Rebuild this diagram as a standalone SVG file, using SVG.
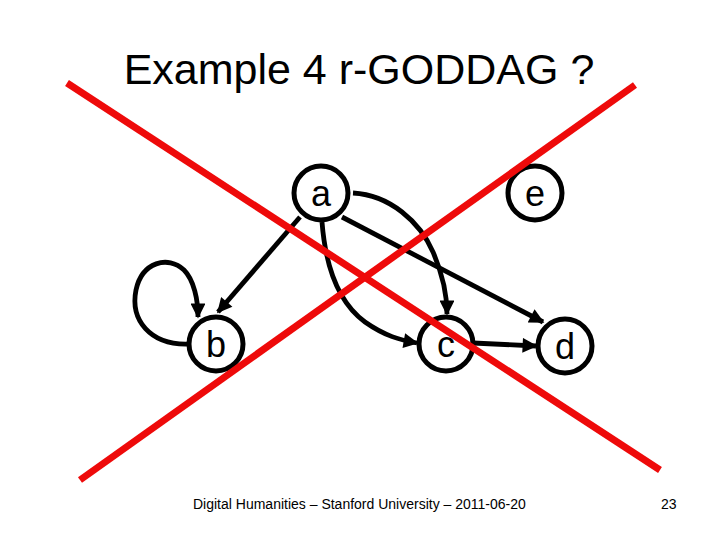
<svg xmlns="http://www.w3.org/2000/svg" width="720" height="540" viewBox="0 0 720 540">
<style>
.node circle{fill:#fff;stroke:#000;stroke-width:5}
.node text{font-family:"Liberation Sans",Arial,sans-serif;font-size:36px;text-anchor:middle;fill:#000}
.edge{fill:none;stroke:#000;stroke-width:4.8}
.cross{stroke:#ee0a0a;stroke-width:7;stroke-linecap:butt}
.title{font-family:"Liberation Sans",Arial,sans-serif;font-size:43px;fill:#000}
.foot{font-family:"Liberation Sans",Arial,sans-serif;font-size:14px;fill:#000}
</style>
<defs>
<marker id="ah" viewBox="0 0 10 10" refX="9" refY="5" markerWidth="3.6" markerHeight="3.1" orient="auto" markerUnits="strokeWidth">
<path d="M0,0 L10,5 L0,10 z" fill="#000"/>
</marker>
</defs>
<rect width="720" height="540" fill="#fff"/>
<text class="title" x="359" y="84" text-anchor="middle">Example 4 r-GODDAG ?</text>
<g id="edges">
<path class="edge" d="M300,217 L218,312" marker-end="url(#ah)"/>
<path class="edge" d="M188,344 C150,345 130,320 136,290 C142,262 168,255 184,270 C194,280 198,300 198,317" marker-end="url(#ah)"/>
<path class="edge" d="M322,222 C325,260 335,300 365,322 C385,336 400,340 417,343" marker-end="url(#ah)"/>
<path class="edge" d="M353,193 C390,195 420,222 433,252 C443,275 447,295 447,314" marker-end="url(#ah)"/>
<path class="edge" d="M342,217 L543,322" marker-end="url(#ah)"/>
<path class="edge" d="M473,343 L536,346" marker-end="url(#ah)"/>
</g>
<g id="node-a" class="node"><circle cx="321" cy="193" r="27"/><text x="321" y="206">a</text></g>
<g id="node-e" class="node"><circle cx="535" cy="193" r="27"/><text x="535" y="206">e</text></g>
<g id="node-b" class="node"><circle cx="216" cy="344" r="27"/><text x="216" y="357">b</text></g>
<g id="node-c" class="node"><circle cx="446" cy="344" r="27"/><text x="446" y="357">c</text></g>
<g id="node-d" class="node"><circle cx="565" cy="346" r="27"/><text x="565" y="359">d</text></g>
<g id="cross">
<line class="cross" x1="67" y1="83" x2="660" y2="470"/>
<line class="cross" x1="635" y1="85" x2="80" y2="480"/>
</g>
<text class="foot" x="193" y="509">Digital Humanities – Stanford University – 2011-06-20</text>
<text class="foot" x="661" y="509">23</text>
</svg>
